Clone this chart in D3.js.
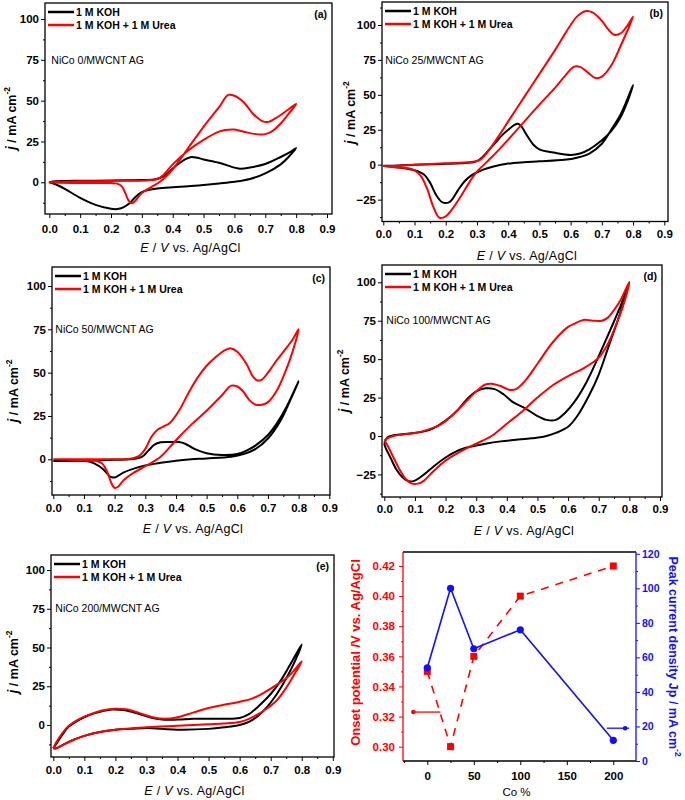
<!DOCTYPE html>
<html>
<head>
<meta charset="utf-8">
<script src="https://cdnjs.cloudflare.com/ajax/libs/d3/7.8.5/d3.min.js"></script>
<style>
	body { margin: 0; background: #fff; }
	text { font-family: "Liberation Sans", Arial, sans-serif; }
	.tick line { stroke: #000; stroke-width: 1; }
	.tick text { font-size: 11.5px; font-weight: bold; fill: #000; }
</style>
</head>
<body>
<div id="chart_area"></div>
<script>

//////////////////////DATA//////////////////////////

var seriesNames = ["1 M KOH", "1 M KOH + 1 M Urea"];
var panelLetters = ["(a)", "(b)", "(c)", "(d)", "(e)"];
var sampleNames = ["NiCo 0/MWCNT AG", "NiCo 25/MWCNT AG", "NiCo 50/MWCNT AG", "NiCo 100/MWCNT AG", "NiCo 200/MWCNT AG"];

// potential ticks (V) and current density ticks (mA cm-2)
var potentialTicks = [0, 0.1, 0.2, 0.3, 0.4, 0.5, 0.6, 0.7, 0.8, 0.9];
var currentTicks = [-25, 0, 25, 50, 75, 100];

// CV loops, [E (V), j (mA cm-2)], forward scan then reverse scan
var kohA = [[0,0],[0.02,0.6],[0.05,0.8],[0.1,0.9],[0.15,1.0],[0.2,1.1],[0.25,1.2],[0.3,1.4],[0.34,1.7],[0.36,2.8],[0.38,5],[0.4,8.5],[0.42,11.5],[0.44,14],[0.46,15.5],[0.48,15],[0.5,14],[0.55,12],[0.6,9],[0.62,8.3],[0.65,9],[0.7,11.2],[0.75,15.5],[0.78,18.5],[0.8,21],
	[0.78,16.5],[0.75,11],[0.7,5.5],[0.65,2],[0.6,0.3],[0.55,-0.7],[0.5,-1.6],[0.45,-2.4],[0.4,-3],[0.35,-3.8],[0.32,-4.8],[0.3,-6],[0.28,-8.8],[0.26,-12.8],[0.24,-15.3],[0.22,-16.4],[0.2,-16.2],[0.15,-13.8],[0.1,-9.5],[0.05,-4],[0.02,-1.2],[0,0]];
var ureaA = [[0.28,1.0],[0.2,0.8],[0.1,0.6],[0.03,0.3],[0,0],[0.03,-0.3],[0.1,-0.4],[0.2,-0.5],[0.22,-0.8],[0.235,-2.5],[0.245,-6],[0.255,-10.5],[0.265,-12.8],[0.275,-12],[0.3,-6.5],[0.33,-3],[0.36,0.5],[0.4,8],[0.45,21],[0.5,34],[0.55,46],[0.58,53.5],[0.6,53],[0.63,49],[0.66,42],[0.69,37.5],[0.71,37],[0.74,40],[0.77,44],[0.8,48],
	[0.78,43],[0.75,36],[0.72,31],[0.7,29.5],[0.67,29.5],[0.63,31],[0.6,32.3],[0.57,32],[0.55,31],[0.5,26],[0.45,19.5],[0.4,11],[0.37,4.5],[0.35,2],[0.32,1.3],[0.28,1.0]];

var kohB = [[0,-0.7],[0.05,-0.5],[0.1,0],[0.15,0.3],[0.2,0.6],[0.25,1],[0.28,1.5],[0.3,2.5],[0.32,6],[0.34,11],[0.36,16],[0.38,21],[0.4,25],[0.42,28.5],[0.43,29.3],[0.44,28],[0.46,21],[0.48,14.5],[0.5,11],[0.55,8.5],[0.6,7],[0.63,8],[0.66,11],[0.7,17.5],[0.73,24],[0.76,34],[0.78,44],[0.8,57],
	[0.78,46],[0.76,36],[0.73,25],[0.7,15],[0.66,8],[0.62,5],[0.58,3.5],[0.5,2.4],[0.45,1.8],[0.4,0.8],[0.35,-1.5],[0.32,-3.5],[0.3,-5.5],[0.28,-8],[0.26,-12],[0.24,-18],[0.22,-25],[0.21,-27],[0.19,-27],[0.17,-22],[0.15,-13],[0.13,-7],[0.1,-4],[0.05,-2],[0,-0.7]];
var ureaB = [[0,-1],[0.05,-2],[0.08,-2.5],[0.1,-4],[0.12,-8],[0.14,-17],[0.16,-30],[0.18,-38],[0.2,-37],[0.22,-32],[0.25,-22],[0.28,-11],[0.3,-5],[0.35,6],[0.4,18],[0.44,28],[0.5,43],[0.55,55],[0.58,63],[0.61,70],[0.63,70],[0.65,67],[0.68,62],[0.7,63],[0.73,71],[0.76,85],[0.78,95],[0.8,106],
	[0.78,99],[0.76,94],[0.74,93],[0.72,97],[0.7,103],[0.67,109],[0.65,110],[0.62,106],[0.6,100],[0.58,93],[0.55,82],[0.5,65],[0.45,48],[0.4,31],[0.38,24],[0.35,14],[0.33,8],[0.31,3.5],[0.28,2],[0.2,1],[0.1,0],[0.02,-1],[0,-1]];

var kohC = [[0,-1],[0.1,-0.8],[0.2,-0.3],[0.25,0],[0.27,0.5],[0.29,1.5],[0.31,5],[0.33,8.5],[0.35,9.8],[0.38,10],[0.41,10],[0.43,9],[0.46,6],[0.5,3.5],[0.55,2.5],[0.6,3],[0.63,5],[0.66,8],[0.7,14],[0.73,21],[0.76,30],[0.8,45],
	[0.77,33],[0.74,22],[0.7,12],[0.66,6],[0.62,3],[0.58,1.5],[0.5,0.5],[0.45,0],[0.4,-0.8],[0.35,-2],[0.3,-3.5],[0.26,-5.5],[0.23,-7.5],[0.2,-10.5],[0.185,-10],[0.17,-7],[0.15,-4],[0.12,-1.5],[0.1,-1],[0.05,-1],[0,-1]];
var ureaC = [[0,0],[0.05,-0.3],[0.1,-0.5],[0.14,-0.8],[0.16,-2.5],[0.175,-7],[0.19,-14],[0.2,-16.5],[0.21,-16],[0.23,-12],[0.26,-8],[0.3,-4],[0.35,1.5],[0.38,7],[0.4,11],[0.45,20],[0.5,28],[0.55,37],[0.58,42.5],[0.6,42],[0.62,39],[0.64,34],[0.66,31.5],[0.68,31.5],[0.7,33],[0.73,40],[0.76,52],[0.78,62],[0.8,75],
	[0.78,69],[0.75,62],[0.72,55],[0.7,50],[0.68,46],[0.665,45.5],[0.65,48],[0.63,55],[0.6,62],[0.58,64],[0.56,63],[0.53,59],[0.5,54],[0.47,47],[0.44,38],[0.41,28],[0.38,21],[0.36,19],[0.34,17],[0.32,13],[0.3,6],[0.28,2],[0.25,0.3],[0.2,0],[0.1,0],[0,0]];

var kohD = [[0,-5],[0.01,-1],[0.03,0.5],[0.06,1.2],[0.1,2],[0.13,3],[0.16,5],[0.2,10],[0.24,17],[0.27,24],[0.3,29],[0.33,31],[0.36,30.5],[0.39,27],[0.42,22],[0.46,18],[0.5,13],[0.53,10.5],[0.56,10.5],[0.59,15],[0.62,22],[0.66,35],[0.7,52],[0.74,70],[0.77,84],[0.8,100],
	[0.78,86],[0.76,74],[0.73,57],[0.7,40],[0.67,27],[0.63,13],[0.6,6],[0.56,2],[0.52,-0.5],[0.48,-1.5],[0.43,-2.5],[0.38,-3.5],[0.33,-5],[0.28,-7],[0.24,-9.5],[0.2,-14],[0.16,-20],[0.13,-25],[0.1,-29],[0.08,-29.5],[0.06,-27],[0.04,-22],[0.02,-14],[0.005,-8],[0,-5]];
var ureaD = [[0,-3],[0.01,-6],[0.03,-14],[0.05,-22],[0.07,-28],[0.09,-31],[0.11,-31],[0.13,-29],[0.16,-23],[0.2,-16],[0.25,-10],[0.3,-5],[0.35,0],[0.4,8],[0.45,16],[0.5,25],[0.55,33],[0.6,39],[0.65,44],[0.7,51],[0.73,60],[0.76,74],[0.78,85],[0.8,100],
	[0.77,88],[0.75,82],[0.73,77],[0.71,75],[0.68,75],[0.65,75.5],[0.62,73],[0.6,71],[0.55,61],[0.5,47],[0.46,36],[0.43,30.5],[0.41,30],[0.38,32.5],[0.35,34],[0.33,33.5],[0.3,29],[0.26,21],[0.22,13],[0.18,7],[0.14,4],[0.1,2],[0.06,1],[0.03,0],[0.01,-1.5],[0,-3]];

var kohE = [[0,-15],[0.01,-12],[0.03,-6],[0.05,-1],[0.08,3],[0.11,6],[0.15,8.5],[0.19,10],[0.23,9.5],[0.27,7.5],[0.31,5],[0.35,3.5],[0.4,3.5],[0.45,4],[0.5,4],[0.55,4],[0.6,4.5],[0.63,7],[0.66,12],[0.7,20],[0.73,28],[0.76,38],[0.8,52],
	[0.78,42],[0.75,30],[0.72,20],[0.69,12],[0.66,6],[0.63,2],[0.6,0],[0.55,-1.5],[0.5,-2.5],[0.4,-3],[0.35,-2.5],[0.3,-2],[0.25,-2.5],[0.2,-3],[0.15,-4.5],[0.1,-7],[0.06,-10],[0.03,-13],[0.01,-15],[0,-15]];
var ureaE = [[0,-15],[0.01,-11],[0.03,-5],[0.05,-0.5],[0.08,3.5],[0.12,7],[0.16,9.5],[0.2,10.5],[0.24,10],[0.28,7.5],[0.32,5],[0.36,4],[0.4,5],[0.45,8],[0.5,11],[0.55,13],[0.6,15],[0.64,17],[0.68,21],[0.72,26],[0.76,32],[0.8,41],
	[0.78,34],[0.75,24],[0.72,16],[0.69,11],[0.66,7],[0.63,4],[0.6,2],[0.55,1],[0.5,0.5],[0.4,-0.5],[0.3,-1.5],[0.2,-3],[0.15,-4.5],[0.1,-7],[0.06,-10],[0.03,-13],[0.01,-15],[0,-15]];

var kohLoops = [kohA, kohB, kohC, kohD, kohE];
var ureaLoops = [ureaA, ureaB, ureaC, ureaD, ureaE];

// panel (f): onset potential and peak current density vs Co content
var coPercent = [0, 25, 50, 100, 200];
var onsetPotential = [0.35, 0.30, 0.36, 0.40, 0.42];
var peakCurrent = [54, 100, 65, 76, 12];
var coTicks = [0, 50, 100, 150, 200];
var onsetTicks = [0.30, 0.32, 0.34, 0.36, 0.38, 0.40, 0.42];
var peakTicks = [0, 20, 40, 60, 80, 100, 120];
// axis pointer arrows: [x start, x end, y]
var onsetArrow = [-15, 14, 0.323];
var peakArrow = [193, 217, 19];


//////////////////////LAYOUT//////////////////////////

// frame box and pixel anchors (E=0, E=0.9, j=0, j=100) of every CV panel
var cvLayout = [
	{l: 45, t: 3, r: 332, b: 214, x0: 49.3, x9: 327, y0: 182.3, y100: 19, gap: 15, ylx: 29, ylab: 10},
	{l: 382, t: 2, r: 668, b: 221.5, x0: 383.3, x9: 664.3, y0: 164.7, y100: 25, gap: 12, ylx: 27, ylab: 1},
	{l: 52, t: 267, r: 330, b: 495, x0: 53.3, x9: 329.3, y0: 459.3, y100: 286, gap: 13, ylx: 34, ylab: 10},
	{l: 382, t: 265, r: 662, b: 497, x0: 384.3, x9: 660, y0: 436, y100: 282.3, gap: 12, ylx: 33, ylab: 0},
	{l: 51, t: 555, r: 334, b: 757, x0: 53.3, x9: 332.8, y0: 725, y100: 570, gap: 12.5, ylx: 33, ylab: 6}
];
var fLayout = {l: 403, t: 552, r: 636, b: 761};

var RED = "#ff0000", BLUE = "#1010ff";

var svg = d3.select("#chart_area").append("svg")
	.attr("width", 685)
	.attr("height", 800);
svg.append("rect").attr("width", 685).attr("height", 800).attr("fill", "#fff");

function inRange(v, a, b) { return v >= Math.min(a, b) - 0.6 && v <= Math.max(a, b) + 0.6; }

function styleAxis(sel) {
	sel.select(".domain").remove();
}

//////////////////////CV PANELS//////////////////////////

function drawCV(i) {
	var p = cvLayout[i];
	var g = svg.append("g");

	var xScale = d3.scaleLinear().domain([0, 0.9]).range([p.x0, p.x9]);
	var yScale = d3.scaleLinear().domain([0, 100]).range([p.y0, p.y100]);

	var xMinor = d3.range(-1, 20).map(function(k) { return k * 0.05; })
		.filter(function(v) { return inRange(xScale(v), p.l, p.r) && Math.round(v * 100) % 10 != 0; });
	var yMinor = d3.range(-4, 10).map(function(k) { return k * 12.5; })
		.filter(function(v) { return inRange(yScale(v), p.t, p.b) && v % 25 != 0; });
	var yMajor = currentTicks.filter(function(v) { return inRange(yScale(v), p.t, p.b); });

	// minor ticks
	g.append("g").attr("transform", "translate(0," + p.b + ")")
		.call(d3.axisBottom(xScale).tickValues(xMinor).tickSize(2).tickFormat(""))
		.call(styleAxis);
	g.append("g").attr("transform", "translate(" + p.l + ",0)")
		.call(d3.axisLeft(yScale).tickValues(yMinor).tickSize(2).tickFormat(""))
		.call(styleAxis);
	// major ticks
	g.append("g").attr("transform", "translate(0," + p.b + ")")
		.call(d3.axisBottom(xScale).tickValues(potentialTicks).tickSize(4).tickPadding(p.gap - 8).tickFormat(d3.format(".1f")))
		.call(styleAxis);
	g.append("g").attr("transform", "translate(" + p.l + ",0)")
		.call(d3.axisLeft(yScale).tickValues(yMajor).tickSize(4).tickPadding(2).tickFormat(d3.format("d")))
		.call(styleAxis);

	// curves
	var line = d3.line()
		.x(function(d) { return xScale(d[0]); })
		.y(function(d) { return yScale(d[1]); })
		.curve(d3.curveCatmullRom.alpha(0.5));
	g.append("path").datum(kohLoops[i])
		.attr("d", line).attr("fill", "none").attr("stroke", "#000")
		.attr("stroke-width", 2).attr("stroke-linejoin", "round");
	g.append("path").datum(ureaLoops[i])
		.attr("d", line).attr("fill", "none").attr("stroke", RED)
		.attr("stroke-width", 2).attr("stroke-linejoin", "round");

	// frame
	g.append("rect")
		.attr("x", p.l).attr("y", p.t)
		.attr("width", p.r - p.l).attr("height", p.b - p.t)
		.attr("fill", "none").attr("stroke", "#000").attr("stroke-width", 1.3);

	// legend
	[["#000", seriesNames[0]], [RED, seriesNames[1]]].forEach(function(s, k) {
		var ly = p.t + 9 + k * 13;
		g.append("line")
			.attr("x1", p.l + 3).attr("x2", p.l + 29)
			.attr("y1", ly).attr("y2", ly)
			.attr("stroke", s[0]).attr("stroke-width", 2.5);
		g.append("text")
			.attr("x", p.l + 31).attr("y", ly).attr("dy", "0.35em")
			.attr("font-size", "10.5px").attr("font-weight", "bold")
			.text(s[1]);
	});

	// panel letter and sample name
	g.append("text")
		.attr("x", p.r - 5).attr("y", p.t + 11).attr("dy", "0.35em")
		.attr("text-anchor", "end")
		.attr("font-size", "10.5px").attr("font-weight", "bold")
		.text(panelLetters[i]);
	g.append("text")
		.attr("x", xScale(0) + 2).attr("y", yScale(75)).attr("dy", "0.35em")
		.attr("font-size", "10.5px")
		.text(sampleNames[i]);

	// y label: j / mA cm-2
	var yl = g.append("text")
		.attr("transform", "translate(" + (p.l - p.ylx) + "," + ((p.t + p.b) / 2 + p.ylab) + ") rotate(-90)")
		.attr("text-anchor", "middle")
		.attr("font-weight", "bold").attr("font-size", "12.5px");
	yl.append("tspan").attr("font-style", "italic").attr("font-size", "14px").text("j");
	yl.append("tspan").text(" / mA cm");
	yl.append("tspan").attr("font-size", "8.5px").attr("dy", -6).text("-2");

	// x label: E / V vs. Ag/AgCl
	var xl = g.append("text")
		.attr("x", (p.l + p.r) / 2 + 2).attr("y", p.b + 38)
		.attr("text-anchor", "middle")
		.attr("font-size", "12.5px").attr("letter-spacing", "0.3px");
	xl.append("tspan").attr("font-style", "italic").text("E");
	xl.append("tspan").text(" / ");
	xl.append("tspan").attr("font-style", "italic").text("V");
	xl.append("tspan").text(" vs. Ag/AgCl");
}

for (var i = 0; i < 5; i++) {
	drawCV(i);
}

//////////////////////PANEL F//////////////////////////

(function() {
	var p = fLayout;
	var g = svg.append("g");

	var xScale = d3.scaleLinear().domain([0, 200]).range([427.3, 613.3]);
	var yLeft = d3.scaleLinear().domain([0.30, 0.42]).range([746.7, 566]);
	var yRight = d3.scaleLinear().domain([0, 120]).range([761, 553.8]);

	var xMinor = d3.range(-1, 9).map(function(k) { return k * 25; })
		.filter(function(v) { return inRange(xScale(v), p.l, p.r) && v % 50 != 0; });
	var lMinor = d3.range(29, 43).map(function(k) { return k / 100; })
		.filter(function(v) { return inRange(yLeft(v), p.t, p.b) && Math.round(v * 100) % 2 != 0; });
	var rMinor = d3.range(0, 13).map(function(k) { return k * 10; })
		.filter(function(v) { return inRange(yRight(v), p.t, p.b) && v % 20 != 0; });

	// bottom axis
	g.append("g").attr("transform", "translate(0," + p.b + ")")
		.call(d3.axisBottom(xScale).tickValues(xMinor).tickSize(2).tickFormat(""))
		.call(styleAxis);
	g.append("g").attr("transform", "translate(0," + p.b + ")")
		.call(d3.axisBottom(xScale).tickValues(coTicks).tickSize(4).tickPadding(7).tickFormat(d3.format("d")))
		.call(styleAxis);

	// left axis (onset potential, red)
	var la = g.append("g").attr("transform", "translate(" + p.l + ",0)")
		.call(d3.axisLeft(yLeft).tickValues(lMinor).tickSize(2).tickFormat(""))
		.call(styleAxis);
	var lb = g.append("g").attr("transform", "translate(" + p.l + ",0)")
		.call(d3.axisLeft(yLeft).tickValues(onsetTicks).tickSize(4).tickPadding(4).tickFormat(d3.format(".2f")))
		.call(styleAxis);
	[la, lb].forEach(function(a) {
		a.selectAll(".tick line").style("stroke", RED);
		a.selectAll(".tick text").style("fill", RED);
	});

	// right axis (peak current density, blue)
	var ra = g.append("g").attr("transform", "translate(" + p.r + ",0)")
		.call(d3.axisRight(yRight).tickValues(rMinor).tickSize(2).tickFormat(""))
		.call(styleAxis);
	var rb = g.append("g").attr("transform", "translate(" + p.r + ",0)")
		.call(d3.axisRight(yRight).tickValues(peakTicks).tickSize(4).tickPadding(2).tickFormat(d3.format("d")))
		.call(styleAxis);
	[ra, rb].forEach(function(a) {
		a.selectAll(".tick line").style("stroke", BLUE);
		a.selectAll(".tick text").style("fill", BLUE).style("font-size", "10.5px");
	});

	// onset potential: red dashed line with squares
	var onset = coPercent.map(function(c, k) { return [c, onsetPotential[k]]; });
	g.append("path").datum(onset)
		.attr("d", d3.line().x(function(d) { return xScale(d[0]); }).y(function(d) { return yLeft(d[1]); }))
		.attr("fill", "none").attr("stroke", RED).attr("stroke-width", 1.6)
		.attr("stroke-dasharray", "8,7");
	g.selectAll(".onset").data(onset).enter().append("rect")
		.attr("class", "onset")
		.attr("x", function(d) { return xScale(d[0]) - 3.5; })
		.attr("y", function(d) { return yLeft(d[1]) - 3.5; })
		.attr("width", 7).attr("height", 7)
		.attr("fill", RED);

	// peak current: blue line with circles
	var peak = coPercent.map(function(c, k) { return [c, peakCurrent[k]]; });
	g.append("path").datum(peak)
		.attr("d", d3.line().x(function(d) { return xScale(d[0]); }).y(function(d) { return yRight(d[1]); }))
		.attr("fill", "none").attr("stroke", BLUE).attr("stroke-width", 1.6);
	g.selectAll(".peak").data(peak).enter().append("circle")
		.attr("class", "peak")
		.attr("cx", function(d) { return xScale(d[0]); })
		.attr("cy", function(d) { return yRight(d[1]); })
		.attr("r", 3.6)
		.attr("fill", BLUE);

	// arrows pointing to the matching axis
	g.append("line")
		.attr("x1", xScale(onsetArrow[0])).attr("x2", xScale(onsetArrow[1]))
		.attr("y1", yLeft(onsetArrow[2])).attr("y2", yLeft(onsetArrow[2]))
		.attr("stroke", RED).attr("stroke-width", 1.3);
	g.append("circle")
		.attr("cx", xScale(onsetArrow[0])).attr("cy", yLeft(onsetArrow[2])).attr("r", 2.3)
		.attr("fill", RED);
	g.append("line")
		.attr("x1", xScale(peakArrow[0])).attr("x2", xScale(peakArrow[1]))
		.attr("y1", yRight(peakArrow[2])).attr("y2", yRight(peakArrow[2]))
		.attr("stroke", BLUE).attr("stroke-width", 1.3);
	g.append("circle")
		.attr("cx", xScale(peakArrow[1]) - 4).attr("cy", yRight(peakArrow[2])).attr("r", 2.3)
		.attr("fill", BLUE);

	// frame: coloured spines
	g.append("line").attr("x1", p.l).attr("x2", p.r).attr("y1", p.t).attr("y2", p.t)
		.attr("stroke", "#000").attr("stroke-width", 1.3);
	g.append("line").attr("x1", p.l).attr("x2", p.r).attr("y1", p.b).attr("y2", p.b)
		.attr("stroke", "#000").attr("stroke-width", 1.3);
	g.append("line").attr("x1", p.l).attr("x2", p.l).attr("y1", p.t).attr("y2", p.b)
		.attr("stroke", RED).attr("stroke-width", 1.3);
	g.append("line").attr("x1", p.r).attr("x2", p.r).attr("y1", p.t).attr("y2", p.b)
		.attr("stroke", BLUE).attr("stroke-width", 1.3);

	// axis titles
	g.append("text")
		.attr("transform", "translate(" + (p.l - 43) + "," + ((p.t + p.b) / 2 - 4) + ") rotate(-90)")
		.attr("text-anchor", "middle")
		.attr("font-size", "13px").attr("font-weight", "bold").attr("fill", RED)
		.text("Onset potential /V vs. Ag/AgCl");
	var rl = g.append("text")
		.attr("transform", "translate(" + (p.r + 33) + "," + ((p.t + p.b) / 2) + ") rotate(90)")
		.attr("text-anchor", "middle")
		.attr("font-size", "12.5px").attr("font-weight", "bold").attr("fill", BLUE);
	rl.append("tspan").text("Peak current density Jp / mA cm");
	rl.append("tspan").attr("font-size", "8.5px").attr("dy", -6).text("-2");
	g.append("text")
		.attr("x", (p.l + p.r) / 2 - 3).attr("y", p.b + 35)
		.attr("text-anchor", "middle")
		.attr("font-size", "11.5px")
		.text("Co %");
})();

</script>
</body>
</html>
